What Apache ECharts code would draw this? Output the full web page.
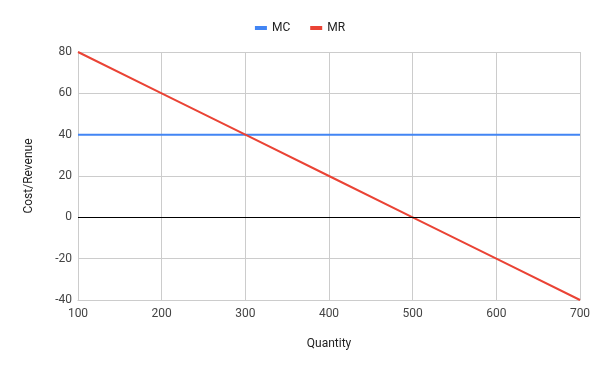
<!DOCTYPE html>
<html><head><meta charset="utf-8">
<script src="https://cdn.jsdelivr.net/npm/echarts@6/dist/echarts.min.js"></script>
<style>html,body{margin:0;padding:0;background:#fff}#c{width:600px;height:371px}</style>
</head><body><div id="c"></div>
<script>
const quantity = [100, 200, 300, 400, 500, 600, 700];
const mc = [40, 40, 40, 40, 40, 40, 40];
const mr = [80, 60, 40, 20, 0, -20, -40];
const seriesNames = ['MC', 'MR'];

const chart = echarts.init(document.getElementById('c'));
const font = 'Roboto, Arial, sans-serif';
chart.setOption({
  animation: false,
  textStyle: { fontFamily: font },
  legend: {
    data: seriesNames,
    top: 17, left: 'center',
    icon: 'rect', itemWidth: 12, itemHeight: 4, itemGap: 20,
    textStyle: { fontSize: 12, color: '#222', fontFamily: font }
  },
  grid: { left: 78, right: 20, top: 52, bottom: 71 },
  xAxis: {
    type: 'value', min: 100, max: 700, interval: 100,
    name: 'Quantity', nameLocation: 'middle', nameGap: 38,
    nameTextStyle: { fontSize: 12, color: '#222', fontFamily: font },
    axisLine: { onZero: false, lineStyle: { color: '#ccc' } },
    axisTick: { show: false },
    axisLabel: { fontSize: 12, color: '#444', margin: 8 },
    splitLine: { lineStyle: { color: '#ccc' } }
  },
  yAxis: {
    type: 'value', min: -40, max: 80, interval: 20,
    name: 'Cost/Revenue', nameLocation: 'middle', nameGap: 43,
    nameTextStyle: { fontSize: 12, color: '#222', fontFamily: font },
    axisLine: { show: true, lineStyle: { color: '#ccc' } },
    axisTick: { show: false },
    axisLabel: { fontSize: 12, color: '#444', margin: 6 },
    splitLine: { lineStyle: { color: '#ccc' } }
  },
  series: [
    { name: 'MC', type: 'line', data: quantity.map((q, i) => [q, mc[i]]),
      showSymbol: false, lineStyle: { width: 2, color: '#4285F4' }, itemStyle: { color: '#4285F4' },
      markLine: { silent: true, symbol: 'none', label: { show: false },
        lineStyle: { color: '#000', width: 1, type: 'solid' }, data: [{ yAxis: 0 }] }, z: 3 },
    { name: 'MR', type: 'line', data: quantity.map((q, i) => [q, mr[i]]),
      showSymbol: false, lineStyle: { width: 2, color: '#EA4335' }, itemStyle: { color: '#EA4335' }, z: 4 }
  ]
});
</script></body></html>
